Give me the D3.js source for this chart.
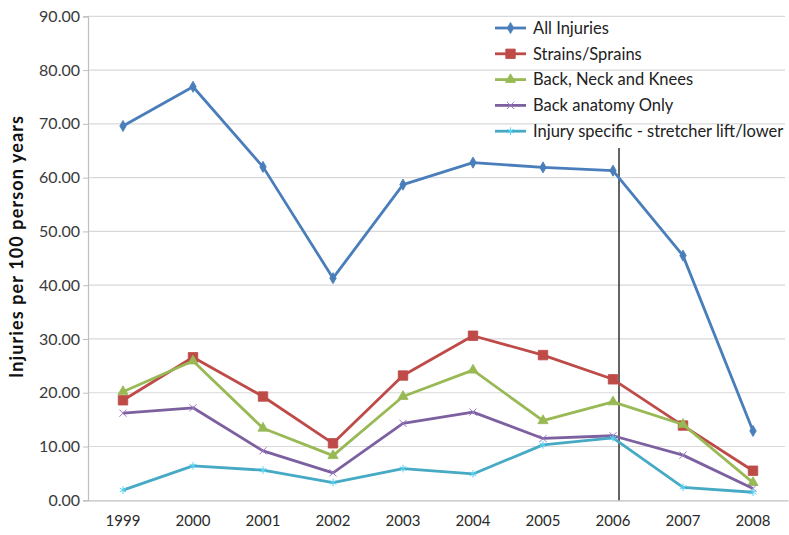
<!DOCTYPE html>
<html>
<head>
<meta charset="utf-8">
<script src="https://cdn.jsdelivr.net/npm/d3@7"></script>
<style>
  html, body { margin: 0; padding: 0; background: #fff; }
  svg { display: block; font-family: Lato, "Open Sans", sans-serif; }
</style>
</head>
<body>
<svg id="chart" width="789" height="535"></svg>
<script>
// Injury rates per 100 person years, 1999–2008
const years = ["1999", "2000", "2001", "2002", "2003", "2004", "2005", "2006", "2007", "2008"];
const seriesNames = [
  "All Injuries",
  "Strains/Sprains",
  "Back, Neck and Knees",
  "Back anatomy Only",
  "Injury specific - stretcher lift/lower"
];
const allInjuries    = [69.6, 76.9, 62.0, 41.3, 58.7, 62.8, 61.9, 61.3, 45.5, 12.9];
const strainsSprains = [18.6, 26.6, 19.3, 10.6, 23.2, 30.6, 27.0, 22.5, 13.9, 5.5];
const backNeckKnees  = [20.2, 25.9, 13.4, 8.3, 19.3, 24.2, 14.8, 18.3, 14.1, 3.3];
const backOnly       = [16.2, 17.2, 9.2, 5.1, 14.3, 16.4, 11.5, 12.0, 8.4, 2.2];
const stretcherLift  = [1.9, 6.4, 5.6, 3.3, 5.9, 4.9, 10.3, 11.6, 2.4, 1.5];
const yTicks = [0, 10, 20, 30, 40, 50, 60, 70, 80, 90];
const yTitle = "Injuries per 100 person years";
// reference line drawn just after the 2006 point
const refYear = "2006";
const refTop = 65.5;

const colors = ["#4a7ebb", "#be4b48", "#98b954", "#7d60a0", "#46aac5"];
const symbols = ["diamond", "square", "triangle", "cross", "star"];
const seriesValues = [allInjuries, strainsSprains, backNeckKnees, backOnly, stretcherLift];

const svg = d3.select("#chart");
const plot = { left: 88, right: 788, top: 16.3, bottom: 500.3 };

const x = d3.scaleBand().domain(years).range([plot.left, plot.right]).padding(0);
const xc = d => x(d) + x.bandwidth() / 2;
const y = d3.scaleLinear().domain([0, 90]).range([plot.bottom, plot.top]);

// horizontal gridlines
svg.append("g")
  .selectAll("line")
  .data(yTicks.filter(t => t > 0))
  .join("line")
  .attr("x1", plot.left).attr("x2", plot.right - 3)
  .attr("y1", d => y(d)).attr("y2", d => y(d))
  .attr("stroke", "#d9d9d9").attr("stroke-width", 1.2);

// y axis
const yAxis = svg.append("g")
  .attr("transform", `translate(${plot.left},0)`)
  .call(d3.axisLeft(y).tickValues(yTicks).tickFormat(d3.format(".2f")).tickSize(5).tickPadding(3));
yAxis.select(".domain").attr("stroke", "#bfbfbf").attr("stroke-width", 1.2);
yAxis.selectAll(".tick line").attr("stroke", "#bfbfbf");
yAxis.selectAll(".tick text")
  .attr("font-size", 16).attr("fill", "#3a3a3a")
  .attr("font-family", "Lato, sans-serif");

// x axis
const xAxis = svg.append("g")
  .attr("transform", `translate(0,${plot.bottom})`)
  .call(d3.axisBottom(x).tickSize(0).tickPadding(15));
xAxis.select(".domain").attr("stroke", "#bfbfbf").attr("stroke-width", 1.2);
xAxis.selectAll(".tick text")
  .attr("font-size", 15).attr("fill", "#2a2a2a")
  .attr("font-family", "Lato, sans-serif");

// y axis title
svg.append("text")
  .attr("transform", `translate(23,247) rotate(-90)`)
  .attr("text-anchor", "middle")
  .attr("font-size", 18).attr("font-weight", "bold").attr("fill", "#111")
  .attr("textLength", 262).attr("lengthAdjust", "spacing")
  .text(yTitle);

// reference line
svg.append("line")
  .attr("x1", xc(refYear) + 6).attr("x2", xc(refYear) + 6)
  .attr("y1", y(refTop)).attr("y2", plot.bottom)
  .attr("stroke", "#111").attr("stroke-width", 1.3);

const symbolType = {
  diamond: d3.symbolDiamond, square: d3.symbolSquare, triangle: d3.symbolTriangle,
  cross: d3.symbolX, star: d3.symbolAsterisk
};
const symbolSize = { diamond: 36, square: 90, triangle: 45, cross: 35, star: 40 };

const line = d3.line().x((d, i) => xc(years[i])).y(d => y(d));

function drawSymbol(sel, si) {
  const sym = symbols[si];
  const open = sym === "cross" || sym === "star";
  sel.attr("d", d3.symbol().type(symbolType[sym]).size(symbolSize[sym]))
    .attr("fill", open ? "none" : colors[si])
    .attr("stroke", open ? d3.color(colors[si]).brighter(0.6) : colors[si])
    .attr("stroke-width", open ? 1 : 0.8);
}

seriesValues.forEach((vals, si) => {
  const g = svg.append("g");
  g.append("path")
    .datum(vals)
    .attr("d", line)
    .attr("fill", "none")
    .attr("stroke", colors[si])
    .attr("stroke-width", 2.8)
    .attr("stroke-linejoin", "round");
  g.selectAll("path.mk")
    .data(vals)
    .join("path")
    .attr("class", "mk")
    .attr("transform", (d, i) => `translate(${xc(years[i])},${y(d)})`)
    .call(drawSymbol, si);
});

// legend
const legend = svg.append("g");
const legY0 = 28, legStep = 25.8, legX0 = 495, legX1 = 526;
seriesNames.forEach((name, si) => {
  const ly = legY0 + si * legStep;
  legend.append("line")
    .attr("x1", legX0).attr("x2", legX1).attr("y1", ly).attr("y2", ly)
    .attr("stroke", colors[si]).attr("stroke-width", 2.8);
  legend.append("path")
    .attr("transform", `translate(${(legX0 + legX1) / 2},${ly})`)
    .call(drawSymbol, si);
  legend.append("text")
    .attr("x", legX1 + 7).attr("y", ly)
    .attr("dy", "0.35em")
    .attr("font-size", 16.5).attr("fill", "#222")
    .text(name);
});
</script>
</body>
</html>
